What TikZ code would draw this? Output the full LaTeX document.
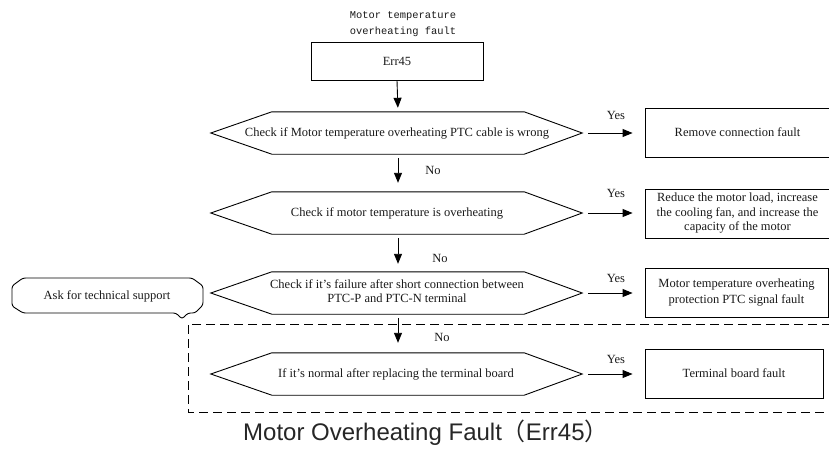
\documentclass[tikz,border=0pt]{standalone}
\usepackage{fontspec}
\setmainfont{Liberation Serif}
\newfontfamily\capfont{Liberation Sans}
\newfontfamily\cjk{Noto Sans CJK SC}
\newfontfamily\titlemono{Liberation Mono}
\usetikzlibrary{arrows.meta}
\newcommand\hexdraw[1]{\draw[line width=0.9pt] (#1.north west) -- (#1.north east) -- ([xshift=58pt]#1.east) coordinate (#1tip) -- (#1.south east) -- (#1.south west) -- ([xshift=-61pt]#1.west) -- cycle;}
\begin{document}
\begin{tikzpicture}[x=1pt,y=-1pt,
  every node/.style={font=\fontsize{12.5}{14.5}\selectfont, inner sep=0pt, text=black!90},
  hexbody/.style={minimum width=252pt, minimum height=42pt},
  resbox/.style={draw, line width=0.9pt, minimum height=49pt, align=center},
  arr/.style={line width=0.9pt, -{Triangle[length=10pt,width=8pt]}},
  lbl/.style={font=\fontsize{12.5}{14.5}\selectfont},
  dashbox/.style={line width=1pt, dash pattern=on 9pt off 5pt},
]
\useasboundingbox (0,0) rectangle (829,448);

% title and start box
\node (title) [font=\titlemono\fontsize{10.4}{16.7}\selectfont, align=center] at (403,24) {Motor temperature\\overheating fault};
\node (err) [draw, line width=0.9pt, minimum width=172pt, minimum height=38pt] at (397,61) {Err45};

% decision hexagons (shape nodes) and their texts
\node (h1) [hexbody] at (398,133) {};
\node (h2) [hexbody] at (398,213) {};
\node (h3) [hexbody] at (398,293) {};
\node (h4) [hexbody] at (398,374) {};
\hexdraw{h1}
\hexdraw{h2}
\hexdraw{h3}
\hexdraw{h4}
\node (t1) at (397,133) {Check if Motor temperature overheating PTC cable is wrong};
\node (t2) at (397,213) {Check if motor temperature is overheating};
\node (t3) [align=center, font=\fontsize{12.5}{14}\selectfont] at (397,291.5) {Check if it’s failure after short connection between\\PTC-P and PTC-N terminal};
\node (t4) at (396,374) {If it’s normal after replacing the terminal board};

% result boxes
\node (b1) [resbox, minimum width=185pt] at (737.5,132.5) {Remove connection fault};
\node (b2) [resbox, minimum width=185pt] at (737.5,213.5) {Reduce the motor load, increase\\the cooling fan, and increase the\\capacity of the motor};
\node (b3) [resbox, minimum width=183pt, font=\fontsize{12.5}{16.5}\selectfont] at (736.5,292.5) {Motor temperature overheating\\protection PTC signal fault};
\node (b4) [resbox, minimum width=178pt] at (734,373.5) {Terminal board fault};

% vertical arrows
\draw[arr, shorten >=4pt] (err.south) -- (h1.north);
\draw[arr, shorten <=4pt, shorten >=9pt] (h1.south) -- (h2.north);
\draw[arr, shorten <=4pt, shorten >=8pt] (h2.south) -- (h3.north);
\draw[arr, shorten <=4pt, shorten >=10pt] (h3.south) -- (h4.north);

% yes arrows
\draw[arr, shorten <=6pt, shorten >=12pt] (h1tip) -- (h1tip -| b1.west);
\draw[arr, shorten <=6pt, shorten >=12pt] (h2tip) -- (h2tip -| b2.west);
\draw[arr, shorten <=6pt, shorten >=12pt] (h3tip) -- (h3tip -| b3.west);
\draw[arr, shorten <=6pt, shorten >=12pt] (h4tip) -- (h4tip -| b4.west);

% labels
\node (y1) [lbl] at (616,115) {Yes};
\node (y2) [lbl] at (616,193) {Yes};
\node (y3) [lbl] at (616,278) {Yes};
\node (y4) [lbl] at (616,359) {Yes};
\node (n1) [lbl] at (433,170) {No};
\node (n2) [lbl] at (440,258) {No};
\node (n3) [lbl] at (442,337) {No};

% callout
\node (ask) at (107,296) {Ask for technical support};
\draw[line width=0.9pt, rounded corners=2.5pt] (12,286) -- (23,278) -- (192,278) -- (203,286) -- (203,305) -- (195,313) -- (188,313) -- (182,319) -- (176,313) -- (23,313) -- (12,306) -- cycle;

% dashed frame
\draw[dashbox] (831,324) -- (188,324) -- (188,412) -- (831,412);

% caption
\node (cap) [font=\capfont\fontsize{24}{28}\selectfont, anchor=base west, text=black!85] at (243,440) {Motor Overheating Fault{\cjk （}Err45{\cjk ）}};
\end{tikzpicture}
\end{document}
